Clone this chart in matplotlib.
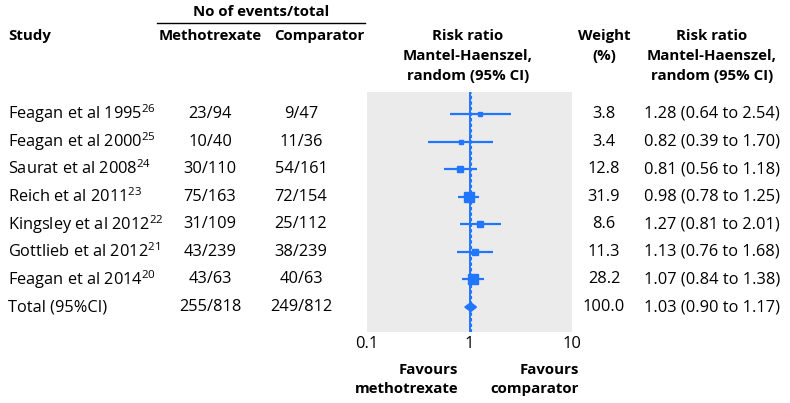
import numpy as np
import matplotlib
matplotlib.use('Agg')
import matplotlib.pyplot as plt
import matplotlib.transforms as mtransforms
from matplotlib.lines import Line2D

plt.rcParams['font.family'] = 'Open Sans'
plt.rcParams['mathtext.fontset'] = 'custom'
plt.rcParams['mathtext.rm'] = 'Open Sans'
plt.rcParams['mathtext.it'] = 'Open Sans'
plt.rcParams['mathtext.bf'] = 'Open Sans:bold'

# data
studies = ['Feagan et al 1995', 'Feagan et al 2000', 'Saurat et al 2008',
           'Reich et al 2011', 'Kingsley et al 2012', 'Gottlieb et al 2012',
           'Feagan et al 2014']
refs = ['26', '25', '24', '23', '22', '21', '20']
mtx_events = ['23/94', '10/40', '30/110', '75/163', '31/109', '43/239', '43/63']
comp_events = ['9/47', '11/36', '54/161', '72/154', '25/112', '38/239', '40/63']
weights = [3.8, 3.4, 12.8, 31.9, 8.6, 11.3, 28.2]
rr = [1.28, 0.82, 0.81, 0.98, 1.27, 1.13, 1.07]
rr_lo = [0.64, 0.39, 0.56, 0.78, 0.81, 0.76, 0.84]
rr_hi = [2.54, 1.70, 1.18, 1.25, 2.01, 1.68, 1.38]

total_label = 'Total (95%CI)'
total_mtx = '255/818'
total_comp = '249/812'
total_weight = 100.0
total_rr, total_lo, total_hi = 1.03, 0.90, 1.17

xticks = [0.1, 1, 10]
xticklabels = ['0.1', '1', '10']

blue = '#2176ff'
W, H = 790, 403
fs = 11.8     # regular text
fsb = 10.8    # bold headers

def fx(x):
    return x / W

def fy(y):
    return 1 - y / H

fig = plt.figure(figsize=(W / 100, H / 100), dpi=100)

# forest panel
ax = fig.add_axes([fx(367), fy(332), fx(572) - fx(367), (332 - 92) / H])
ax.set_facecolor('#ebebeb')
ax.set_xscale('log')
ax.set_xlim(0.1, 10)
n = len(studies)
ax.set_ylim(n + 25 / 27.7, -22 / 27.7)
for s in ax.spines.values():
    s.set_visible(False)
ax.set_yticks([])
ax.set_xticks(xticks)
ax.set_xticklabels(xticklabels, fontsize=fs)
ax.minorticks_off()
ax.tick_params(axis='x', length=0, pad=3)

ax.axvline(1, color=blue, lw=1.4, zorder=2)
ax.axvline(total_rr, color=blue, lw=0.8, ls=(0, (3, 2)), zorder=2)

ys = np.arange(n)
ax.hlines(ys, rr_lo, rr_hi, color=blue, lw=1.6, zorder=3)
for y, r, w in zip(ys, rr, weights):
    ax.plot(r, y, marker='s', ms=1.4 * np.sqrt(w), color=blue,
            mec=blue, zorder=4)

dx = [total_lo, total_rr, total_hi, total_rr]
dy = [n, n - 0.16, n, n + 0.16]
ax.fill(dx, dy, color=blue, zorder=4)

# table text tied to the rows
tr = mtransforms.blended_transform_factory(fig.transFigure, ax.transData)
for i in range(n):
    fig.text(fx(8), i, studies[i] + '$^{' + refs[i] + '}$', transform=tr,
             ha='left', va='center', fontsize=fs)
    fig.text(fx(210), i, mtx_events[i], transform=tr, ha='center',
             va='center', fontsize=fs)
    fig.text(fx(301), i, comp_events[i], transform=tr, ha='center',
             va='center', fontsize=fs)
    fig.text(fx(604), i, f'{weights[i]:.1f}', transform=tr, ha='center',
             va='center', fontsize=fs)
    fig.text(fx(712), i, f'{rr[i]:.2f} ({rr_lo[i]:.2f} to {rr_hi[i]:.2f})',
             transform=tr, ha='center', va='center', fontsize=fs)

fig.text(fx(8), n, total_label, transform=tr, ha='left', va='center', fontsize=fs)
fig.text(fx(210), n, total_mtx, transform=tr, ha='center', va='center', fontsize=fs)
fig.text(fx(301), n, total_comp, transform=tr, ha='center', va='center', fontsize=fs)
fig.text(fx(604), n, f'{total_weight:.1f}', transform=tr, ha='center',
         va='center', fontsize=fs)
fig.text(fx(712), n, f'{total_rr:.2f} ({total_lo:.2f} to {total_hi:.2f})',
         transform=tr, ha='center', va='center', fontsize=fs)

# headers
bold = dict(fontsize=fsb, fontweight='bold', va='center')
fig.text(fx(261), fy(12), 'No of events/total', ha='center', **bold)
fig.add_artist(Line2D([fx(157), fx(365)], [fy(23), fy(23)], color='black',
                      lw=1.0, transform=fig.transFigure))
fig.text(fx(8), fy(36), 'Study', ha='left', **bold)
fig.text(fx(210), fy(36), 'Methotrexate', ha='center', **bold)
fig.text(fx(319), fy(36), 'Comparator', ha='center', **bold)

rr_header = ['Risk ratio', 'Mantel-Haenszel,', 'random (95% CI)']
for line, y in zip(rr_header, [36, 56, 76]):
    fig.text(fx(468), fy(y), line, ha='center', **bold)
    fig.text(fx(712), fy(y), line, ha='center', **bold)
for line, y in zip(['Weight', '(%)'], [36, 56]):
    fig.text(fx(604), fy(y), line, ha='center', **bold)

fig.text(fx(458), fy(370), 'Favours', ha='right', **bold)
fig.text(fx(458), fy(389), 'methotrexate', ha='right', **bold)
fig.text(fx(579), fy(370), 'Favours', ha='right', **bold)
fig.text(fx(579), fy(389), 'comparator', ha='right', **bold)

fig.savefig('out.png', dpi=100, facecolor='white')
